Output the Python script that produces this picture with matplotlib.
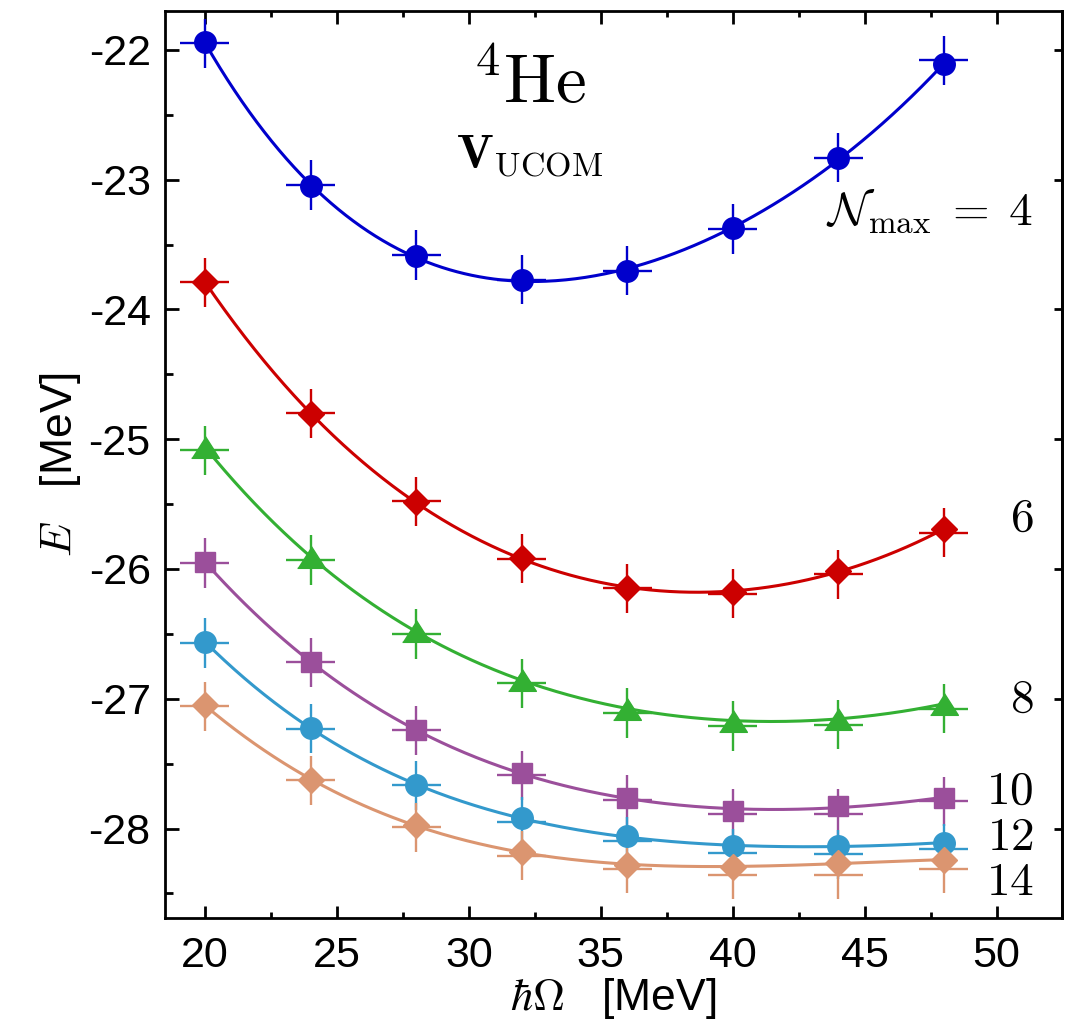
import numpy as np
import matplotlib
matplotlib.use("Agg")
import matplotlib.pyplot as plt
from matplotlib.ticker import MultipleLocator

plt.rcParams['font.family'] = ['Liberation Sans', 'DejaVu Sans']
plt.rcParams['mathtext.fontset'] = 'cm'
plt.rcParams['axes.unicode_minus'] = False

# hbar*Omega [MeV]
hw = [20, 24, 28, 32, 36, 40, 44, 48]

# energies at the markers, one list per N_max
E4 = [-21.94, -23.05, -23.59, -23.77, -23.70, -23.375, -22.835, -22.11]
E6 = [-23.786, -24.806, -25.483, -25.919, -26.143, -26.176, -26.014, -25.695]
E8 = [-25.06, -25.907, -26.48, -26.857, -27.076, -27.17, -27.153, -27.04]
E10 = [-25.945, -26.716, -27.243, -27.572, -27.762, -27.865, -27.826, -27.762]
E12 = [-26.562, -27.222, -27.667, -27.919, -28.06, -28.137, -28.135, -28.109]
E14 = [-27.05, -27.623, -27.975, -28.181, -28.278, -28.296, -28.266, -28.241]

# centres of the error crosses (slightly shifted from the markers)
C4 = [-21.95, -23.04, -23.58, -23.77, -23.70, -23.38, -22.83, -22.08]
C6 = [-23.79, -24.80, -25.48, -25.92, -26.15, -26.19, -26.04, -25.72]
C8 = [-25.085, -25.93, -26.50, -26.88, -27.11, -27.21, -27.20, -27.076]
C10 = [-25.953, -26.72, -27.243, -27.59, -27.78, -27.885, -27.885, -27.79]
C12 = [-26.57, -27.23, -27.667, -27.95, -28.10, -28.19, -28.20, -28.155]
C14 = [-27.058, -27.63, -27.99, -28.21, -28.31, -28.355, -28.355, -28.31]

dx = 0.93
dE = 0.19

nmax_labels = [r'$\mathcal{N}_{\max}\;=\;4$', r'$6$', r'$8$', r'$10$', r'$12$', r'$14$']
label_y = [-23.245, -25.61, -27.01, -27.72, -28.07, -28.42]

tri = [(-1.28, -1), (1.28, -1), (0, 1)]
styles = [
    (E4, C4, '#0000CC', 'o', 15.5),
    (E6, C6, '#CC0000', 'D', 13),
    (E8, C8, '#33B033', tri, 20),
    (E10, C10, '#9B4F9B', 's', 14.4),
    (E12, C12, '#3399CC', 'o', 15.5),
    (E14, C14, '#DB9570', 'D', 13),
]

fig = plt.figure(figsize=(10.68, 10.35), dpi=100)
ax = fig.add_axes([0.1541, 0.1130, 0.8403, 0.8764])

xs = np.linspace(hw[0], hw[-1], 300)
for E, C, col, mk, ms in styles:
    fit = np.polyfit(hw, E, 4)
    ax.plot(xs, np.polyval(fit, xs), color=col, lw=2.2, zorder=2)
    ax.errorbar(hw, C, xerr=dx, yerr=dE, fmt='none', ecolor=col,
                elinewidth=1.7, capsize=0, zorder=3)
    ax.plot(hw, E, ls='none', marker=mk, ms=ms, color=col, mec=col, zorder=4)

for lab, y in zip(nmax_labels, label_y):
    ax.text(51.4, y, lab, ha='right', va='center', fontsize=34)

ax.text(32.3, -22.27, r'$^4\mathrm{He}$', ha='center', va='center', fontsize=50)
ax.text(32.3, -22.81, r'$\mathbf{V}_{\mathrm{UCOM}}$', ha='center', va='center', fontsize=35)

ax.set_xlim(18.47, 52.48)
ax.set_ylim(-28.69, -21.70)
ax.xaxis.set_major_locator(MultipleLocator(5))
ax.xaxis.set_minor_locator(MultipleLocator(2.5))
ax.yaxis.set_major_locator(MultipleLocator(1))
ax.yaxis.set_minor_locator(MultipleLocator(0.5))

for s in ax.spines.values():
    s.set_linewidth(2.0)
ax.tick_params(axis='x', which='both', direction='in', top=True, width=2.0)
ax.tick_params(axis='x', which='major', length=9, pad=13, labelsize=31)
ax.tick_params(axis='x', which='minor', length=4)
ax.tick_params(axis='y', which='both', direction='in', right=False, width=2.0)
ax.tick_params(axis='y', which='major', length=10, pad=10, labelsize=31)
ax.tick_params(axis='y', which='minor', length=5.5)

sec = ax.secondary_yaxis('right')
sec.yaxis.set_major_locator(MultipleLocator(1))
sec.tick_params(direction='in', length=5.5, width=2.0, labelright=False)
sec.spines['right'].set_linewidth(2.0)

ax.set_xlabel(r'$\hbar\Omega$   [MeV]', fontsize=32, labelpad=0)
ax.set_ylabel(r'$E$   [MeV]', fontsize=32, labelpad=4)

fig.savefig('out.png', dpi=100)
